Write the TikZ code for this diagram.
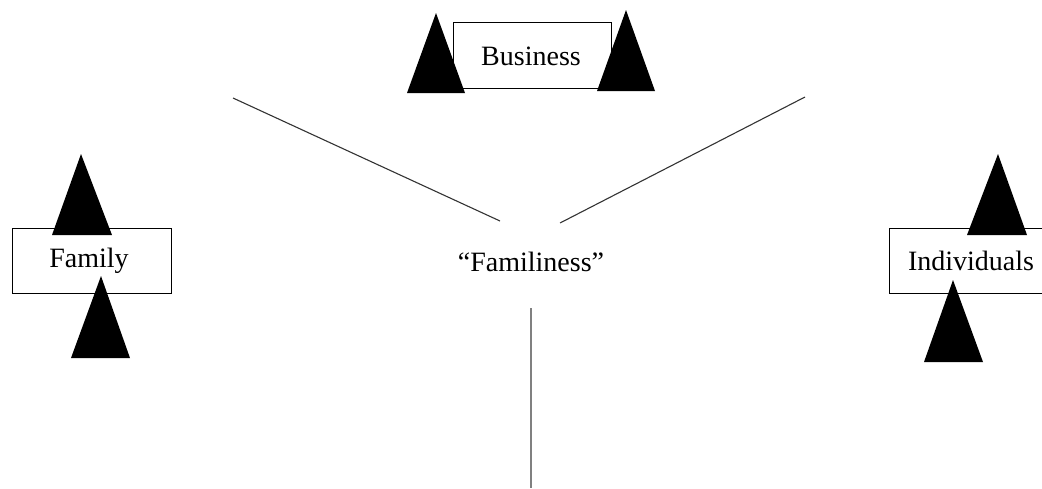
\documentclass[tikz,border=0pt]{standalone}
\usepackage{fontspec}
\setmainfont{Liberation Serif}
\begin{document}
\begin{tikzpicture}[x=1pt,y=-1pt,
  lbl/.style={font=\fontsize{28}{32}\selectfont, inner sep=0pt},
  boxed/.style={draw, line width=0.9pt, fill=white},
  tri/.style={fill=black},
  spoke/.style={draw=black!80, line width=1.1pt},
  stem/.style={draw=black!50, line width=1.4pt}]
\useasboundingbox (0,0) rectangle (1042,488);

% boxes
\draw[boxed] (453,22) rectangle (611,88);
\node[lbl] (business) at (531,56) {Business};
\draw[boxed] (12,228) rectangle (171,293);
\node[lbl] (family) at (89,261) {Family};
\draw[boxed] (889,228) rectangle (1060,293);
\node[lbl] (indiv) at (971,261) {Individuals};

\node[lbl] (famil) at (531,262) {``Familiness''};

% triangles around Business
\fill[tri] (436,13) -- (465,93) -- (407,93) -- cycle;
\fill[tri] (626,10) -- (655,91) -- (597,91) -- cycle;
% triangles around Family
\fill[tri] (81,154) -- (112,235) -- (52,235) -- cycle;
\fill[tri] (101,276) -- (130,358) -- (71,358) -- cycle;
% triangles around Individuals
\fill[tri] (998,154) -- (1027,235) -- (967,235) -- cycle;
\fill[tri] (953,280) -- (983,362) -- (924,362) -- cycle;

% lines
\coordinate (la) at (233,98);
\coordinate (lb) at (500,221);
\coordinate (ra) at (805,97);
\coordinate (rb) at (560,223);
\coordinate (sa) at (531,308);
\coordinate (sb) at (531,488);
\draw[spoke] (la) -- (lb);
\draw[spoke] (ra) -- (rb);
\draw[stem] (sa) -- (sb);
\end{tikzpicture}
\end{document}
